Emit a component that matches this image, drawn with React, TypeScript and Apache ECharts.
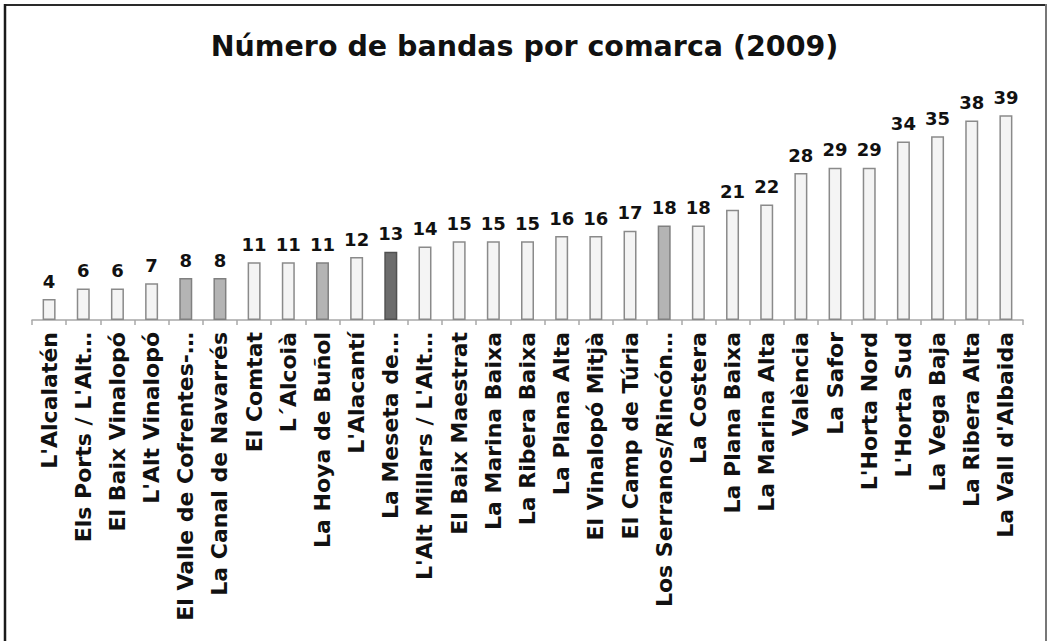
import React, { useEffect, useRef } from "react";
import * as echarts from "echarts";

const categories = [
  "L'Alcalatén",
  "Els Ports / L'Alt…",
  "El Baix Vinalopó",
  "L'Alt Vinalopó",
  "El Valle de Cofrentes-…",
  "La Canal de Navarrés",
  "El Comtat",
  "L´Alcoià",
  "La Hoya de Buñol",
  "L'Alacantí",
  "La Meseta de…",
  "L'Alt Millars / L'Alt…",
  "El Baix Maestrat",
  "La Marina Baixa",
  "La Ribera Baixa",
  "La Plana Alta",
  "El Vinalopó Mitjà",
  "El Camp de Túria",
  "Los Serranos/Rincón…",
  "La Costera",
  "La Plana Baixa",
  "La Marina Alta",
  "València",
  "La Safor",
  "L'Horta Nord",
  "L'Horta Sud",
  "La Vega Baja",
  "La Ribera Alta",
  "La Vall d'Albaida",
];

const values = [4, 6, 6, 7, 8, 8, 11, 11, 11, 12, 13, 14, 15, 15, 15, 16, 16, 17, 18, 18, 21, 22, 28, 29, 29, 34, 35, 38, 39];

const midGrayCategories = ["El Valle de Cofrentes-…", "La Canal de Navarrés", "La Hoya de Buñol", "Los Serranos/Rincón…"];
const darkGrayCategories = ["La Meseta de…"];

const title = "Número de bandas por comarca (2009)";

export default function App() {
  const ref = useRef<HTMLDivElement>(null);
  useEffect(() => {
    if (!ref.current) return;
    const chart = echarts.init(ref.current, null, { renderer: "svg" });
    const data = values.map((v, i) => {
      const name = categories[i];
      let fill = "#f4f4f4";
      let border = "#8a8a8a";
      if (midGrayCategories.includes(name)) {
        fill = "#b4b4b4";
        border = "#808080";
      } else if (darkGrayCategories.includes(name)) {
        fill = "#6c6c6c";
        border = "#505050";
      }
      return { value: v, itemStyle: { color: fill, borderColor: border, borderWidth: 1.5 } };
    });
    chart.setOption({
      animation: false,
      backgroundColor: "#ffffff",
      title: {
        text: title,
        left: "center",
        top: 27,
        textStyle: { fontFamily: "DejaVu Sans", fontWeight: "bold", fontSize: 28.5, color: "#111" },
      },
      grid: { left: 32, right: 26, top: 110, bottom: 321, containLabel: false },
      xAxis: {
        type: "category",
        data: categories,
        axisLine: { lineStyle: { color: "#a8a8a8", width: 1.5 } },
        axisTick: { show: true, length: 5, lineStyle: { color: "#a8a8a8", width: 1.5 } },
        axisLabel: {
          rotate: 90,
          interval: 0,
          margin: 12,
          fontFamily: "DejaVu Sans",
          fontWeight: "bold",
          fontSize: 22,
          color: "#111",
        },
      },
      yAxis: { type: "value", min: 0, max: 40, show: false },
      series: [
        {
          type: "bar",
          data,
          barWidth: 13,
          label: {
            show: true,
            position: "top",
            distance: 9,
            fontFamily: "DejaVu Sans",
            fontWeight: "bold",
            fontSize: 18,
            color: "#111",
          },
        },
      ],
      graphic: [
        { type: "line", shape: { x1: 5, y1: 5, x2: 1046, y2: 5 }, style: { stroke: "#2a2a2a", lineWidth: 2 } },
        { type: "line", shape: { x1: 5, y1: 4, x2: 5, y2: 641 }, style: { stroke: "#1a1a1a", lineWidth: 2.5 } },
        { type: "line", shape: { x1: 1046, y1: 4, x2: 1046, y2: 641 }, style: { stroke: "#777", lineWidth: 2 } },
      ],
    });
    return () => chart.dispose();
  }, []);
  return (
    <div
      ref={ref}
      style={{ position: "fixed", left: 0, top: 0, width: 1049, height: 641, background: "#fff" }}
    />
  );
}
